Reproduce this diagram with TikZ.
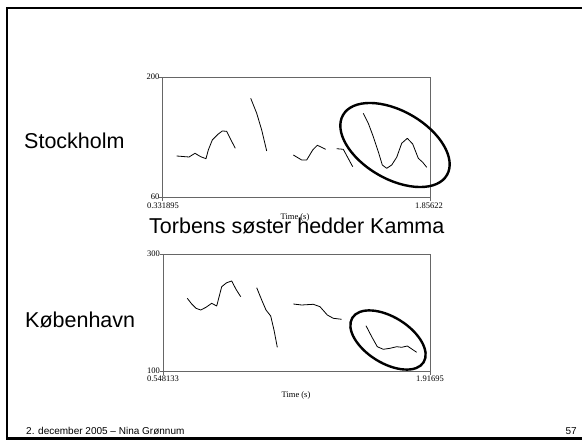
\documentclass[tikz,border=0pt]{standalone}
\usepackage{fontspec}
\setmainfont{Liberation Sans}
\newfontfamily\plotfont{Liberation Serif}
\begin{document}
\begin{tikzpicture}[x=1pt,y=-1pt,
  frame/.style={line width=2.5pt,black},
  axis/.style={draw=black!60,line width=0.7pt},
  pitch/.style={black,line width=0.8pt,line join=round},
  ring/.style={black,line width=2.4pt},
  big/.style={inner sep=0pt,font=\fontsize{21.5}{24}\selectfont},
  small/.style={inner sep=0pt,font=\plotfont\fontsize{8.5}{10}\selectfont},
  foot/.style={inner sep=0pt,font=\fontsize{10}{12}\selectfont}]
\useasboundingbox (0,0) rectangle (582,441);
% slide frame
\draw[frame] (582,8) -- (7,8) -- (7,438.5) -- (582,438.5);

% ---------- top plot ----------
\draw[axis] (162.5,77) rectangle (430,197.5);
\draw[axis] (159,77) -- (162.5,77) (159,197.5) -- (162.5,197.5)
            (162.5,197.5) -- (162.5,201) (430,197.5) -- (430,201);
\node[small,anchor=east] (t200) at (159.5,77) {200};
\node[small,anchor=east] (t60) at (159.5,196.5) {60};
\node[small] (tx0) at (163,206) {0.331895};
\node[small] (tx1) at (429,206) {1.85622};
\node[small] (ttime) at (295,217) {Time (s)};

\draw[pitch] (176.7,156) -- (189,157) -- (195,153.3) -- (200.7,156.7) -- (206,158.7) -- (208.3,150) -- (212.3,140) -- (218.3,134) -- (222.3,131) -- (226.7,131.3) -- (231,140) -- (235.3,148.3);
\draw[pitch] (250.7,98.3) -- (256.7,113.3) -- (261.7,130) -- (266.7,151);
\draw[pitch] (293.3,155) -- (301.7,160) -- (306.7,160) -- (312.7,150) -- (317.3,145.3) -- (321.7,147.3) -- (325.7,149.3);
\draw[pitch] (336.7,148.7) -- (343.3,149.3) -- (347.3,156.7) -- (352.7,166.7);
\draw[pitch] (363.3,113.3) -- (368.3,123.3) -- (373.3,136.7) -- (378.3,151.7) -- (382.3,165) -- (386.7,168.3) -- (391.7,165) -- (396.7,157.3) -- (401.7,143.3) -- (407.3,138.3) -- (412.7,144) -- (418.3,158.3) -- (422.7,162.3) -- (426.7,167.3);
\draw[ring,rotate around={-30:(395,145)}] (395,145) ellipse [x radius=60pt, y radius=34pt];

% ---------- bottom plot ----------
\draw[axis] (163,254) rectangle (430,371);
\draw[axis] (159.5,254) -- (163,254) (159.5,371) -- (163,371)
            (163,371) -- (163,374.5) (430,371) -- (430,374.5);
\node[small,anchor=east] (b300) at (160,254) {300};
\node[small,anchor=east] (b100) at (160,371) {100};
\node[small] (bx0) at (163,379) {0.548133};
\node[small] (bx1) at (430,379) {1.91695};
\node[small] (btime) at (296,395) {Time (s)};

\draw[pitch] (187.3,298.3) -- (191.7,304) -- (196,308.3) -- (200.7,310) -- (206,307.3) -- (211.7,303.3) -- (216.7,306) -- (221.7,286.7) -- (226.7,282.7) -- (231.7,281) -- (236,289.3) -- (240.7,296.7);
\draw[pitch] (256.7,287.7) -- (261.7,300) -- (266,310) -- (270.7,316) -- (274,330) -- (277.3,347.3);
\draw[pitch] (293.3,304) -- (301.7,305) -- (313.3,304.3) -- (320,306.7) -- (327.3,315) -- (333.3,318.3) -- (341.7,319.3);
\draw[pitch] (366,325.7) -- (371.7,336.7) -- (377.3,346.7) -- (383.3,349.3) -- (390,348.3) -- (396.7,346.7) -- (401.7,347.3) -- (407.3,346) -- (416.7,352.3);
\draw[ring,rotate around={-32:(388,340)}] (388,340) ellipse [x radius=42pt, y radius=23pt];

% ---------- texts ----------
\node[big,anchor=base west] (sth) at (24,148.3) {Stockholm};
\node[big,anchor=base west] (cph) at (25,328) {København};
\node[big,anchor=base west] (sent) at (149,234) {Torbens søster hedder Kamma};
\node[foot,anchor=base west] (footer) at (26,434) {2. december 2005 – Nina Grønnum};
\node[foot,anchor=base east] (page) at (577,434) {57};
\end{tikzpicture}
\end{document}
